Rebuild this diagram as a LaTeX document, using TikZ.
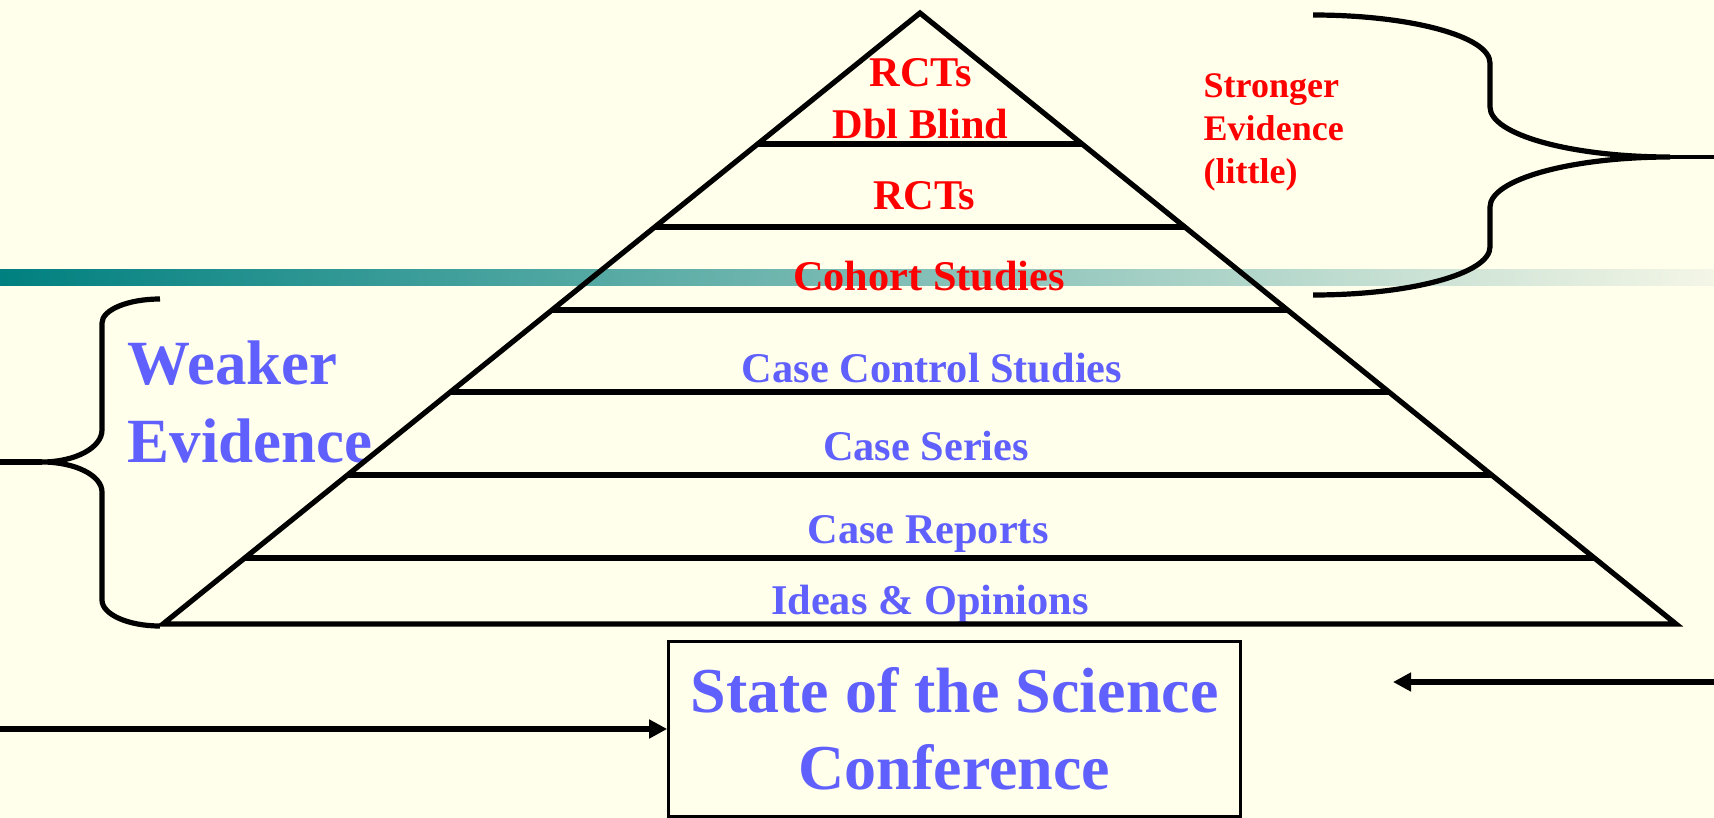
\documentclass[tikz,border=0pt]{standalone}
\usepackage{fontspec}
\setmainfont{Liberation Serif}
\usetikzlibrary{arrows.meta,calc}

\definecolor{bgcream}{RGB}{255,255,235}
\definecolor{barteal}{RGB}{0,128,128}
\definecolor{barmid}{RGB}{152,182,168}
\definecolor{barfade}{RGB}{244,246,230}
\definecolor{lblue}{RGB}{96,96,255}

\tikzset{
  heavy/.style={line width=0.052cm, line join=miter},
  bracestroke/.style={line width=0.052cm, line cap=butt},
  tier/.style={font=\bfseries\fontsize{12.04pt}{14.8pt}\selectfont, inner sep=0pt, anchor=base, align=center},
  strongtier/.style={tier, text=red},
  weaktier/.style={tier, text=lblue},
  flowarrow/.style={line width=0.055cm, -{Triangle[length=0.18cm,width=0.18cm]}},
  confbox/.style={draw, line width=0.033cm, minimum width=5.71cm, minimum height=1.75cm,
    inner sep=0pt, align=center, text=lblue,
    font=\bfseries\fontsize{18.2pt}{21.9pt}\selectfont}
}

\begin{document}
\begin{tikzpicture}[x=0.01cm,y=-0.01cm]
  % page and frame
  \fill[bgcream] (0,0) rectangle (1714,818);
  \useasboundingbox (0,0) rectangle (1714,818);

  % title rule of the slide
  \shade[left color=barteal, middle color=barmid, right color=barfade] (0,269) rectangle (1714,285);

  % tier labels, top to bottom (multi-line labels sit on their last baseline)
  \node[strongtier] (dbl)    at (920.5,139) {RCTs\\Dbl Blind};
  \node[strongtier] (rct)    at (924,209)  {RCTs};
  \node[strongtier] (cohort) at (929,290)  {Cohort Studies};
  \node[weaktier]   (cc)     at (932,382)  {Case Control Studies};
  \node[weaktier]   (series) at (926,460)  {Case Series};
  \node[weaktier]   (report) at (928,543)  {Case Reports};
  \node[weaktier]   (ideas)  at (930,614)  {Ideas \& Opinions};

  % side captions
  \node[anchor=base west, inner sep=0pt, align=left, text=red,
        font=\bfseries\fontsize{10.24pt}{12.2pt}\selectfont] (strong) at (1203,183)
        {Stronger\\Evidence\\(little)};
  \node[anchor=base west, inner sep=0pt, align=left, text=lblue,
        font=\bfseries\fontsize{17.9pt}{21.9pt}\selectfont] (weak) at (127,462)
        {Weaker\\Evidence};

  % pyramid outline
  \coordinate (apex) at (920,13);
  \coordinate (bl)   at (163,624);
  \coordinate (br)   at (1676,624);
  \draw[heavy] (apex) -- (bl) -- (br) -- cycle;

  % tier dividers
  \foreach \yy in {144,227,310,392,475,558}
    \draw[heavy] ($(apex)!{(\yy-13)/611}!(bl)$) -- ($(apex)!{(\yy-13)/611}!(br)$);

  % brace for stronger evidence
  \draw[bracestroke] (1313,15) .. controls (1411,15) and (1490,36.5) .. (1490,63)
    -- (1490,107) .. controls (1490,134.6) and (1571,157) .. (1670,157)
    .. controls (1571,157) and (1490,179.4) .. (1490,207)
    -- (1490,247) .. controls (1490,273.5) and (1411,295) .. (1313,295);
  \draw[line width=0.04cm] (1670,157) -- (1714,157);

  % brace for weaker evidence
  \draw[bracestroke] (160,299) .. controls (128,299) and (102,309.8) .. (102,323)
    -- (102,430) .. controls (102,447.7) and (75,462) .. (42,462)
    .. controls (75,462) and (102,475.4) .. (102,492)
    -- (102,600) .. controls (102,614.4) and (128,626) .. (160,626);
  \draw[bracestroke] (0,462) -- (42,462);

  % conference box and the two feeds into it
  \node[confbox] (box) at (954.5,729) {State of the Science\\Conference};
  \coordinate (lin)  at (0,729);
  \coordinate (rin)  at (1714,682);
  \coordinate (rtip) at (1393,682);
  \draw[flowarrow] (lin) -- (box.west);
  \draw[flowarrow] (rin) -- (rtip);
\end{tikzpicture}
\end{document}
